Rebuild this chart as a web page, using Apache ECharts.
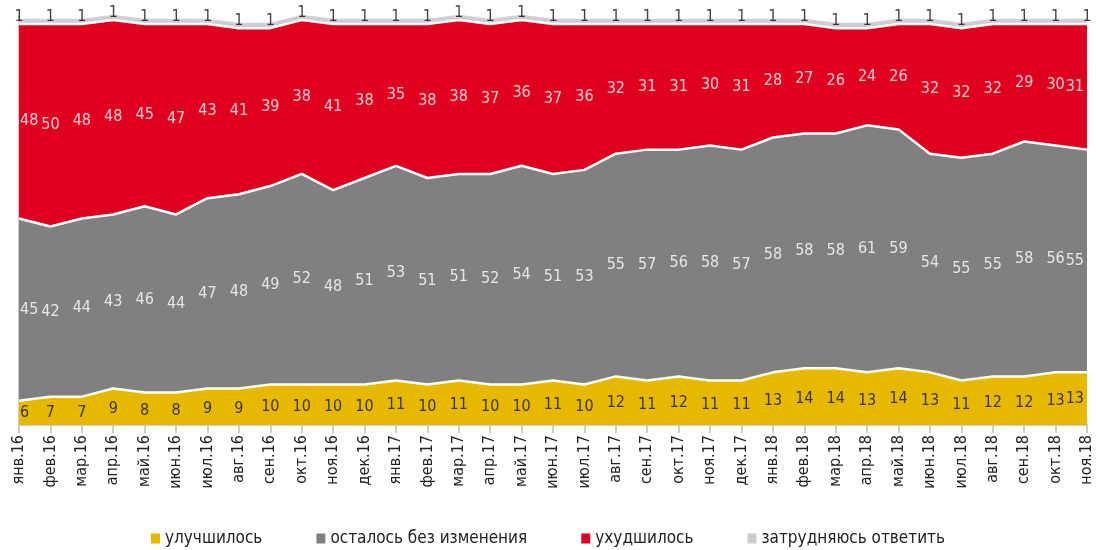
<!DOCTYPE html>
<html>
<head>
<meta charset="utf-8">
<script src="https://cdn.jsdelivr.net/npm/echarts@6/dist/echarts.min.js"></script>
<style>
  html, body { margin: 0; padding: 0; background: #fff; }
  #echart { width: 1096px; height: 550px; }
</style>
</head>
<body>
<div id="echart"></div>
<script>
var months = ['янв.16','фев.16','мар.16','апр.16','май.16','июн.16','июл.16','авг.16','сен.16','окт.16','ноя.16','дек.16',
    'янв.17','фев.17','мар.17','апр.17','май.17','июн.17','июл.17','авг.17','сен.17','окт.17','ноя.17','дек.17',
    'янв.18','фев.18','мар.18','апр.18','май.18','июн.18','июл.18','авг.18','сен.18','окт.18','ноя.18'];
var better = [6,7,7,9,8,8,9,9,10,10,10,10,11,10,11,10,10,11,10,12,11,12,11,11,13,14,14,13,14,13,11,12,12,13,13];
var same = [45,42,44,43,46,44,47,48,49,52,48,51,53,51,51,52,54,51,53,55,57,56,58,57,58,58,58,61,59,54,55,55,58,56,55];
var worse = [48,50,48,48,45,47,43,41,39,38,41,38,35,38,38,37,36,37,36,32,31,31,30,31,28,27,26,24,26,32,32,32,29,30,31];
var hard = [1,1,1,1,1,1,1,1,1,1,1,1,1,1,1,1,1,1,1,1,1,1,1,1,1,1,1,1,1,1,1,1,1,1,1];

var names = ['улучшилось', 'осталось без изменения', 'ухудшилось', 'затрудняюсь ответить'];
var colors = ['#e6b800', '#808080', '#df0020', '#cccccc'];
var font = '"DejaVu Sans Condensed", "Liberation Sans Narrow", "Noto Sans", sans-serif';

// точки для подписей - середина каждой полосы
var last = months.length - 1;
function labelPoint(i, y, v) {
    var item = { value: [i, y, v] };
    if (i === 0) item.label = { align: 'left', offset: [1, 0] };
    if (i === last) item.label = { align: 'right', offset: [-3, 0] };
    return item;
}
var midBetter = [], midSame = [], midWorse = [], topHard = [];
for (var i = 0; i < months.length; i++) {
    var a = better[i], b = a + same[i], c = b + worse[i], d = c + hard[i];
    midBetter.push(labelPoint(i, a / 2, better[i]));
    midSame.push(labelPoint(i, (a + b) / 2, same[i]));
    midWorse.push(labelPoint(i, (b + c) / 2, worse[i]));
    topHard.push({ value: [i, d, hard[i]] });
}

function areaSeries(name, data, color, lineColor) {
    return {
        name: name,
        type: 'line',
        stack: 'total',
        data: data,
        symbol: 'none',
        color: color,
        lineStyle: { color: lineColor, width: 2.5 },
        areaStyle: { color: color, opacity: 1 },
        z: 2
    };
}

function labelSeries(data, textColor, dy) {
    return {
        type: 'scatter',
        data: data,
        symbolSize: 1,
        clip: false,
        itemStyle: { color: 'transparent' },
        silent: true,
        z: 5,
        label: {
            show: true,
            position: 'inside',
            offset: [0, dy || 0],
            color: textColor,
            fontFamily: font,
            fontSize: 16,
            formatter: function (p) { return p.value[2]; }
        }
    };
}

var myChart = echarts.init(document.getElementById('echart'));
var option = {
    animation: false,
    grid: { left: 19, right: 9, top: 16, bottom: 125 },
    legend: {
        data: names,
        top: 525,
        left: 'center',
        icon: 'rect',
        itemWidth: 9,
        itemHeight: 10,
        itemGap: 54,
        textStyle: { color: '#222', fontFamily: font, fontSize: 17 }
    },
    xAxis: {
        type: 'category',
        data: months,
        boundaryGap: false,
        axisLine: { show: true, lineStyle: { color: '#cccccc', width: 2 } },
        axisTick: { show: true, length: 8, alignWithLabel: true, lineStyle: { color: '#cccccc', width: 2 } },
        axisLabel: { rotate: 90, interval: 0, margin: 10, color: '#222', fontFamily: font, fontSize: 16 },
        splitLine: { show: false }
    },
    yAxis: {
        type: 'value',
        min: 0,
        max: 101,
        show: true,
        axisLine: { show: true, lineStyle: { color: '#cccccc', width: 2 } },
        axisTick: { show: false },
        axisLabel: { show: false },
        splitLine: { show: false }
    },
    series: [
        areaSeries(names[0], better, colors[0], '#ffffff'),
        areaSeries(names[1], same, colors[1], '#ffffff'),
        areaSeries(names[2], worse, colors[2], '#ffffff'),
        areaSeries(names[3], hard, colors[3], '#d0d0d0'),
        labelSeries(midBetter, '#111', 2),
        labelSeries(midSame, '#ffffff'),
        labelSeries(midWorse, '#ffffff'),
        labelSeries(topHard, '#111', -3)
    ]
};
myChart.setOption(option);
</script>
</body>
</html>
